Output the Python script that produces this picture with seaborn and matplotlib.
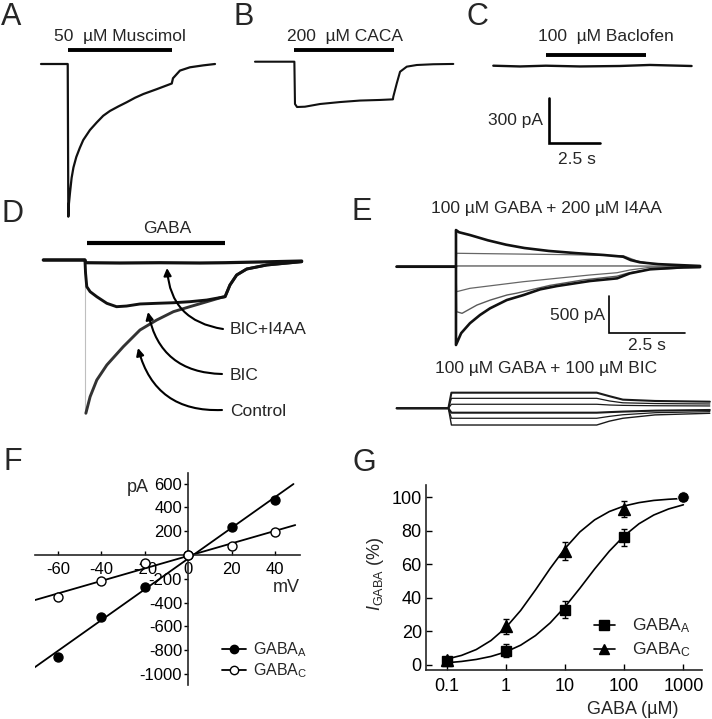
import matplotlib
matplotlib.use("Agg")
import matplotlib.pyplot as plt
from matplotlib.lines import Line2D
import seaborn as sns

W, H = 712, 719

# ---- A-C: agonist responses (time s, current pA); scale 300 pA / 2.5 s
a_t = [0, 1.31, 1.34, 1.37, 1.42, 1.50, 1.59, 1.73, 1.90, 2.07, 2.40, 2.73, 3.05,
       3.38, 3.79, 4.20, 4.61, 5.02, 5.67, 6.41, 6.47, 6.81, 7.30, 7.96, 8.53]
a_i = [0, 0, -1018, -930, -860, -760, -690, -620, -560, -507, -440, -390, -345,
       -313, -283, -255, -225, -200, -168, -130, -95, -44, -22, -9, 0]
b_t = [0, 1.93, 1.96, 2.06, 2.45, 3.19, 4.17, 5.15, 6.13, 6.76, 6.78, 6.95, 7.11,
       7.44, 7.93, 8.74, 9.72]
b_i = [0, 0, -282, -302, -300, -282, -269, -259, -255, -251, -233, -144, -67,
       -33, -22, -17, -15]
c_t = [0, 1.31, 2.58, 4.25, 6.20, 7.68, 9.72]
c_i = [0, -5, 0, -5, -2, 5, -2]
a_drug = [1.32, 6.40]
b_drug = [1.91, 6.81]
c_drug = [2.58, 7.48]
scale_pa_abc = 300
scale_s = 2.5

# ---- D: GABA responses, control / BIC / BIC+I4AA
d_drug = [1.43, 5.98]
d_onset = 1.37
d_t_block = [0, 1.37, 1.40, 2.52, 3.84, 5.15, 5.98, 7.13, 8.5]
d_i_block = [0, 0, -37, -41, -37, -41, -37, -27, -14]
d_t_bic = [0, 1.37, 1.39, 1.43, 1.54, 1.76, 2.09, 2.41, 2.74, 3.18, 3.73, 4.28,
           4.82, 5.38, 5.87, 5.98, 6.14, 6.36, 6.69, 7.35, 8.5]
d_i_bic = [0, 0, -181, -364, -432, -501, -591, -637, -628, -600, -591, -583,
           -569, -546, -509, -500, -341, -205, -123, -68, -23]
d_t_ctrl = [1.40, 1.54, 1.76, 2.09, 2.63, 3.18, 3.73, 4.28, 4.82, 5.38, 5.87,
            5.98, 6.14, 6.36, 6.69, 7.35, 8.5]
d_i_ctrl = [-2091, -1865, -1637, -1432, -1183, -955, -819, -705, -637, -569, -509,
            -500, -341, -205, -123, -68, -23]
d_labels = ["BIC+I4AA", "BIC", "Control"]

# ---- E top: GABA + I4AA at +40 ... -60 mV
e_onset = 1.95
e_t40 = [0, 1.95, 1.95, 2.05, 2.41, 3.0, 3.6, 4.2, 5.0, 5.9, 6.8, 7.45, 7.7, 8.0, 8.6, 9.4, 9.98]
e_i40 = [0, 0, 500, 470, 432, 360, 300, 255, 215, 185, 160, 136, 90, 60, 35, 20, 10]
e_t20 = [0, 1.95, 1.97, 3.5, 5.5, 7.45, 7.9, 8.4, 9.0, 9.98]
e_i20 = [0, 0, 183, 175, 165, 150, 80, 40, 20, 8]
e_t0 = [0, 1.95, 1.97, 7.45, 9.98]
e_i0 = [0, 0, 10, 10, 5]
e_tm20 = [0, 1.95, 1.97, 2.41, 4.16, 5.27, 6.36, 7.25, 7.67, 8.33, 9.98]
e_im20 = [0, 0, -341, -295, -205, -158, -113, -82, -45, -8, -5]
e_tm40 = [0, 1.95, 1.97, 2.15, 2.64, 3.08, 3.63, 3.95, 5.04, 6.14, 7.24, 7.58, 8.33, 9.98]
e_im40 = [0, 0, -614, -636, -523, -455, -386, -361, -255, -180, -130, -90, -36, -10]
e_tm60 = [0, 1.95, 1.95, 2.12, 2.41, 2.74, 3.07, 3.62, 4.17, 4.72, 5.27, 6.36, 7.25,
          7.67, 8.33, 9.43, 9.98]
e_im60 = [0, 0, -1068, -907, -771, -659, -568, -455, -387, -309, -264, -195, -159,
          -91, -36, -8, -5]
scale_pa_e = 500

# ---- E bottom: GABA + BIC
eb_t = [0, 1.70, 1.80, 6.58, 7.0, 7.44, 8.5, 10.3]
eb_i40 = [0, 0, 213, 213, 165, 118, 100, 90]
eb_i20 = [0, 0, 136, 136, 100, 75, 65, 59]
eb_i0 = [0, 0, 55, 55, 45, 40, 35, 32]
eb_im20 = [0, 0, -60, -60, -52, -45, -32, -23]
eb_im40 = [0, 0, -136, -136, -110, -88, -60, -46]
eb_im60 = [0, 0, -228, -228, -175, -136, -90, -68]

# ---- F: I-V relation
f_v = [-60, -40, -20, 0, 20, 40]
f_a = [-855, -518, -266, 0, 238, 462]
f_c = [-356, -216, -65, 0, 78, 196]
f_fit_a_v = [-71.4, 48.4]
f_fit_a = [-952, 597]
f_fit_c_v = [-70.6, 49.2]
f_fit_c = [-378, 252]
f_xticks = [-60, -40, -20, 0, 20, 40]
f_yticks = [600, 400, 200, -200, -400, -600, -800, -1000]

# ---- G: dose-response
g_x = [0.1, 1, 10, 100]
g_a = [2.6, 8.5, 33, 76]
g_a_err = [1.5, 3.8, 5.2, 4.8]
g_c = [3, 23, 68, 93]
g_c_err = [1, 4.4, 5.5, 5]
g_max_x = [1000]
g_max = [100]
g_fit_x = [0.1, 0.178, 0.316, 0.562, 1, 1.78, 3.16, 5.62, 10, 17.8, 31.6, 56.2,
           100, 178, 316, 562, 1000]
g_fit_a = [1.3, 2.1, 3.3, 5.1, 7.8, 11.8, 17.5, 25.1, 34.7, 45.7, 57.2, 67.9,
           77.0, 84.2, 89.4, 93.0, 95.5]
g_fit_c = [3.5, 5.7, 9.2, 14.6, 22.3, 32.5, 44.7, 57.6, 69.5, 79.3, 86.5, 91.5,
           94.8, 96.8, 98.1, 98.8, 99.3]
g_xticks = [0.1, 1, 10, 100, 1000]
g_xticklabels = ["0.1", "1", "10", "100", "1000"]

sns.set_theme(style="ticks")
plt.rcParams["font.family"] = ["Liberation Sans", "DejaVu Sans"]
plt.rcParams["mathtext.fontset"] = "custom"
plt.rcParams["mathtext.rm"] = "Liberation Sans"
plt.rcParams["mathtext.it"] = "Liberation Sans:italic"
plt.rcParams["axes.unicode_minus"] = False

fig = plt.figure(figsize=(W / 100, H / 100), dpi=100)


def px_axes(x0, y0, sx, sy):
    # full-figure axes; data (0, 0) sits at pixel (x0, y0)
    ax = fig.add_axes([0, 0, 1, 1], facecolor="none")
    ax.set_xlim(-x0 / sx, (W - x0) / sx)
    ax.set_ylim(-(H - y0) / sy, y0 / sy)
    ax.axis("off")
    return ax


def trace(ax, t, i, lw=1.3, color="black", z=2):
    sns.lineplot(x=t, y=i, ax=ax, sort=False, estimator=None, color=color,
                 linewidth=lw, zorder=z)


def bar(ax, span, y, lw):
    ax.plot(span, [y, y], color="black", lw=lw, solid_capstyle="butt")


def text(x, y, s, size=12.5, ha="center", va="center", **kw):
    fig.text(x / W, 1 - y / H, s, size=size, ha=ha, va=va, **kw)


# ---------- A, B, C
sx1, sy1 = 20.4, 0.15
ax_a = px_axes(41, 64, sx1, sy1)
trace(ax_a, a_t, a_i, lw=1.6, color="#111111")
bar(ax_a, a_drug, 93, 2.8)
ax_b = px_axes(255, 61.7, sx1, sy1)
trace(ax_b, b_t, b_i, lw=1.5, color="#111111")
bar(ax_b, b_drug, 78, 2.8)
ax_c = px_axes(493.3, 65.7, sx1, sy1)
trace(ax_c, c_t, c_i, lw=1.7, color="#111111")
bar(ax_c, c_drug, 71, 2.8)
t0, i0 = 2.73, -515
ax_c.plot([t0, t0, t0 + scale_s], [i0 + scale_pa_abc, i0, i0], color="black",
          lw=1.9, solid_joinstyle="miter")
text(120, 36, "50  µM Muscimol")
text(345, 36, "200  µM CACA")
text(606, 36, "100  µM Baclofen")
text(543, 120, f"{scale_pa_abc} pA", ha="right")
text(577, 159, f"{scale_s} s")

# ---------- D
sx2, sy2 = 30.4, 0.0733
ax_d = px_axes(43.3, 260, sx2, sy2)
ax_d.plot([d_onset, d_onset], [0, min(d_i_ctrl)], color="0.75", lw=0.8)
trace(ax_d, d_t_ctrl, d_i_ctrl, lw=2.1, color="#333333")
trace(ax_d, d_t_bic, d_i_bic, lw=2.1, color="#111111")
trace(ax_d, d_t_block, d_i_block, lw=2.3, color="#111111")
bar(ax_d, d_drug, 236, 3.0)
text(167, 229, "GABA")
arrow_tails = [(223, 329), (222, 374), (222, 410)]
arrow_heads = [(167, 268), (148, 312), (138, 348)]
for lab, (tx, ty), (hx, hy) in zip(d_labels, arrow_tails, arrow_heads):
    ax_d.annotate("", xy=(hx, H - hy), xycoords="figure pixels",
                  xytext=(tx, H - ty), textcoords="figure pixels",
                  arrowprops=dict(arrowstyle="-|>", color="black", lw=1.5,
                                  mutation_scale=11, shrinkA=0, shrinkB=0,
                                  connectionstyle="arc3,rad=-0.4"))
    text(230, ty + 1, lab, ha="left")

# ---------- E
ax_e = px_axes(396.7, 266.7, sx2, sy2)
ax_e.plot([e_onset, e_onset], [max(e_i40), min(e_im60)], color="0.55", lw=0.7)
trace(ax_e, e_t20, e_i20, lw=0.9, color="0.4")
trace(ax_e, e_t0, e_i0, lw=0.9, color="0.3")
trace(ax_e, e_tm20, e_im20, lw=0.9, color="0.4")
trace(ax_e, e_tm40, e_im40, lw=1.0, color="0.35")
trace(ax_e, e_tm60, e_im60, lw=1.9, color="#111111")
trace(ax_e, e_t40, e_i40, lw=1.9, color="#111111")
te, ie = 6.99, -900
ax_e.plot([te, te, te + scale_s], [ie + scale_pa_e, ie, ie], color="black",
          lw=1.2, solid_joinstyle="miter")
text(546, 208, "100 µM GABA + 200 µM I4AA")
text(605, 315, f"{scale_pa_e} pA", ha="right")
text(647, 346, f"{scale_s} s")

ax_eb = px_axes(396.7, 408.3, sx2, sy2)
for vals, lw in [(eb_i20, 0.9), (eb_i0, 0.9), (eb_im40, 0.9), (eb_im60, 1.0),
                 (eb_im20, 1.5), (eb_i40, 1.5)]:
    trace(ax_eb, eb_t, vals, lw=lw, color="#1a1a1a")
text(546, 368, "100 µM GABA + 100 µM BIC")

# ---------- F
axf = fig.add_axes([35 / W, 1 - 685 / H, 265 / W, (685 - 473.3) / H])
axf.set_xlim(-70.6, 51.4)
axf.set_ylim(-1092, 687)
sns.lineplot(x=f_fit_a_v, y=f_fit_a, ax=axf, color="black", lw=1.3)
sns.lineplot(x=f_fit_c_v, y=f_fit_c, ax=axf, color="black", lw=1.3)
sns.scatterplot(x=f_v, y=f_a, ax=axf, color="black", edgecolor="black", s=42,
                linewidth=1, zorder=3)
sns.scatterplot(x=f_v, y=f_c, ax=axf, color="white", edgecolor="black", s=42,
                linewidth=1, zorder=4)
axf.spines["left"].set_position(("data", 0))
axf.spines["bottom"].set_position(("data", 0))
for s in ["top", "right"]:
    axf.spines[s].set_visible(False)
for s in ["left", "bottom"]:
    axf.spines[s].set_linewidth(1.2)
axf.set_xticks(f_xticks)
axf.set_yticks(f_yticks)
axf.tick_params(axis="x", direction="in", length=3, width=1, pad=5, labelsize=12,
                colors="black")
axf.tick_params(axis="y", direction="out", length=3, width=1, pad=1.5, labelsize=12,
                colors="black")
axf.set_xlabel("")
axf.set_ylabel("")
text(138, 487, "pA", size=13)
text(300, 588, "mV", size=13, ha="right")
f_handles = [Line2D([], [], color="black", lw=1.3, marker="o", ms=6, mfc="black",
                    mec="black"),
             Line2D([], [], color="black", lw=1.3, marker="o", ms=6, mfc="white",
                    mec="black")]
fig.legend(f_handles, [r"GABA$_{\mathrm{A}}$", r"GABA$_{\mathrm{C}}$"],
           loc="center left", bbox_to_anchor=(222 / W, 1 - 660 / H), frameon=False,
           fontsize=11.5, handlelength=1.5, handletextpad=0.45, labelspacing=0.15,
           borderpad=0, borderaxespad=0)

# ---------- G
axg = fig.add_axes([426 / W, 1 - 670 / H, (701.7 - 426) / W, (670 - 485) / H])
axg.set_xscale("log")
axg.set_xlim(0.0447, 2042)
axg.set_ylim(-3, 107.3)
sns.lineplot(x=g_fit_x, y=g_fit_a, ax=axg, color="black", lw=1.2)
sns.lineplot(x=g_fit_x, y=g_fit_c, ax=axg, color="black", lw=1.2)
axg.errorbar(g_x, g_a, yerr=g_a_err, fmt="s", color="black", ms=7, capsize=2.5,
             elinewidth=1, capthick=1, zorder=3)
axg.errorbar(g_x, g_c, yerr=g_c_err, fmt="^", color="black", ms=8, capsize=2.5,
             elinewidth=1, capthick=1, zorder=3)
sns.scatterplot(x=g_max_x, y=g_max, ax=axg, color="black", s=70, zorder=4)
for s in ["top", "right"]:
    axg.spines[s].set_visible(False)
for s in ["left", "bottom"]:
    axg.spines[s].set_linewidth(1.2)
axg.set_xticks(g_xticks)
axg.set_xticklabels(g_xticklabels)
axg.xaxis.set_minor_locator(matplotlib.ticker.NullLocator())
axg.set_yticks([0, 20, 40, 60, 80, 100])
axg.tick_params(direction="in", length=4, width=1, labelsize=13, colors="black")
axg.tick_params(axis="x", pad=6)
axg.tick_params(axis="y", pad=3)
axg.set_xlabel("")
axg.set_ylabel("")
text(375, 574, r"$I_{\mathrm{GABA}}$ (%)", size=13, rotation=90)
text(633, 710, "GABA (µM)", size=13)
g_handles = [Line2D([], [], color="black", lw=1.2, marker="s", ms=6.5),
             Line2D([], [], color="black", lw=1.2, marker="^", ms=7.5)]
fig.legend(g_handles, [r"GABA$_{\mathrm{A}}$", r"GABA$_{\mathrm{C}}$"],
           loc="center left", bbox_to_anchor=(594 / W, 1 - 638 / H), frameon=False,
           fontsize=12.5, handlelength=1.2, handletextpad=1.0, labelspacing=0.3,
           borderpad=0, borderaxespad=0)

# ---------- panel letters
for letter, (x, y) in zip("ABCDEFG", [(1, 25), (233, 25), (467, 25), (1, 222),
                                       (352, 220), (3, 470), (353, 471)]):
    text(x, y, letter, size=22, ha="left", va="baseline")

fig.savefig("out.png", dpi=100, facecolor="white")
